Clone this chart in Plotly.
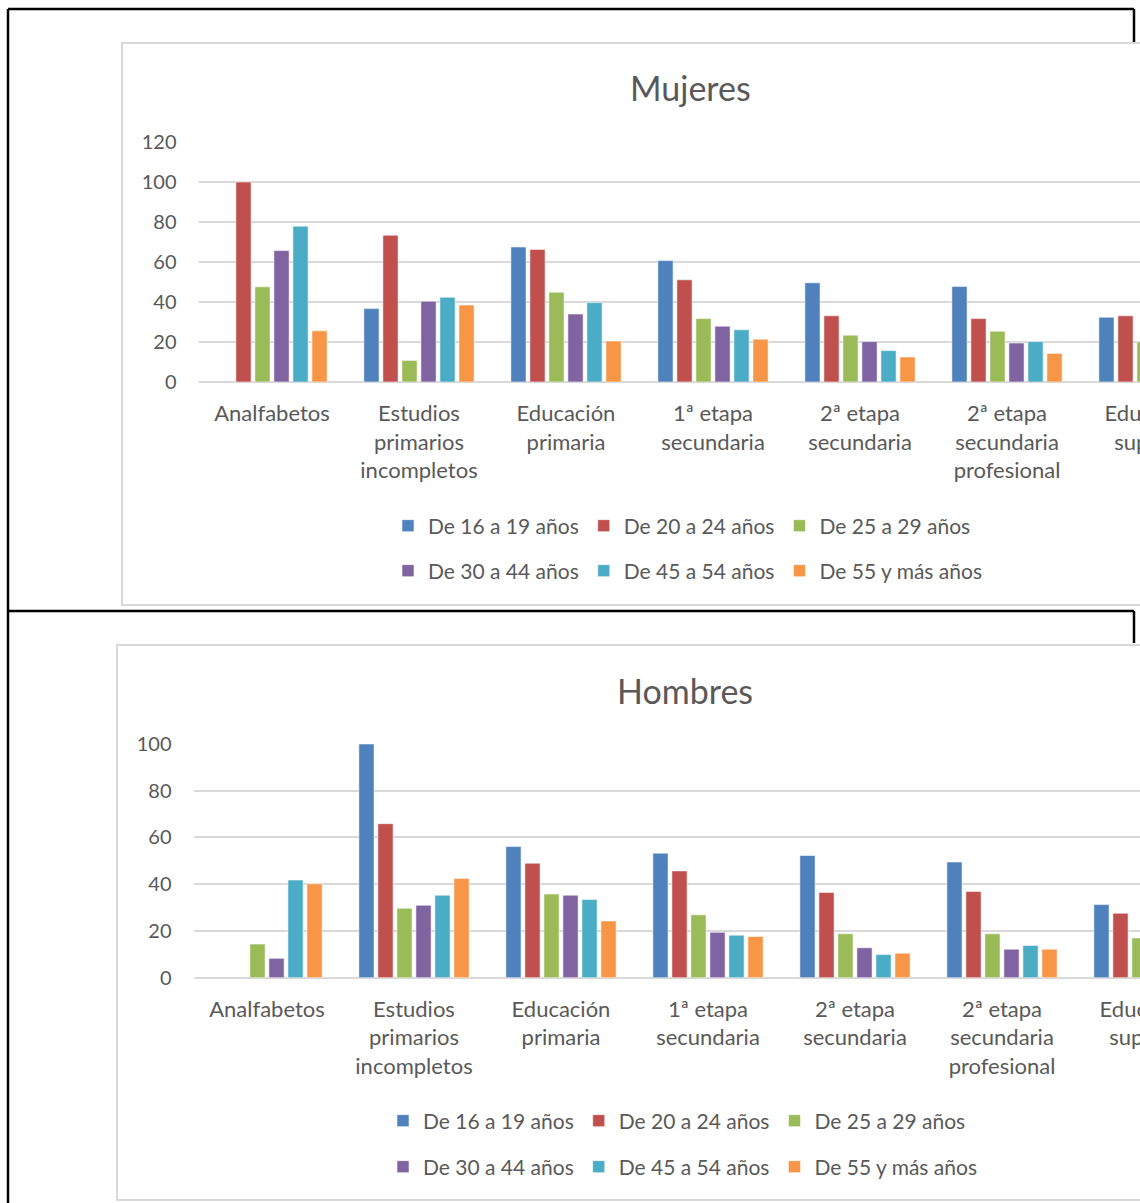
import plotly.graph_objects as go

# Niveles de estudios (eje de categorías)
categorias = [
    "Analfabetos",
    "Estudios primarios incompletos",
    "Educación primaria",
    "1ª etapa secundaria",
    "2ª etapa secundaria",
    "2ª etapa secundaria profesional",
    "Educación superior",
]
etiquetas = [
    "Analfabetos",
    "Estudios<br>primarios<br>incompletos",
    "Educación<br>primaria",
    "1ª etapa<br>secundaria",
    "2ª etapa<br>secundaria",
    "2ª etapa<br>secundaria<br>profesional",
    "Educación<br>superior",
]

grupos_edad = [
    "De 16 a 19 años",
    "De 20 a 24 años",
    "De 25 a 29 años",
    "De 30 a 44 años",
    "De 45 a 54 años",
    "De 55 y más años",
]

# Mujeres
m_16_19 = [None, 36.7, 67.5, 60.7, 49.6, 47.8, 32.4]
m_20_24 = [100, 73.4, 66.3, 51.1, 33.1, 31.7, 33.1]
m_25_29 = [47.6, 10.8, 44.9, 31.7, 23.4, 25.4, 20.0]
m_30_44 = [65.7, 40.4, 34.0, 27.9, 20.2, 19.5, None]
m_45_54 = [77.9, 42.4, 39.7, 26.1, 15.7, 20.2, None]
m_55_mas = [25.6, 38.5, 20.5, 21.4, 12.5, 14.3, None]

# Hombres
h_16_19 = [None, 100, 56.1, 53.3, 52.3, 49.5, 31.3]
h_20_24 = [None, 65.9, 49.0, 45.7, 36.5, 36.9, 27.6]
h_25_29 = [14.4, 29.7, 35.8, 26.9, 18.8, 18.8, 17.0]
h_30_44 = [8.3, 31.0, 35.3, 19.4, 12.8, 12.2, None]
h_45_54 = [41.8, 35.3, 33.5, 18.2, 9.9, 13.8, None]
h_55_mas = [40.2, 42.5, 24.3, 17.6, 10.5, 12.2, None]

mujeres = [m_16_19, m_20_24, m_25_29, m_30_44, m_45_54, m_55_mas]
hombres = [h_16_19, h_20_24, h_25_29, h_30_44, h_45_54, h_55_mas]

colores = ["#4F81BD", "#C0504D", "#9BBB59", "#8064A2", "#4BACC6", "#F79646"]

W, H = 1270, 1203
FONT = "Lato"
GRIS_TXT = "#595959"
GRIS_LIN = "#d9d9d9"


def fx(p):
    return p / W


def fy(p):
    return 1 - p / H


fig = go.Figure()

for i, (nombre, serie) in enumerate(zip(grupos_edad, mujeres)):
    fig.add_trace(go.Bar(
        x=categorias, y=serie, name=nombre,
        marker=dict(color=colores[i], line=dict(color="rgba(255,255,255,0.55)", width=1)),
        xaxis="x", yaxis="y",
        legend="legend" if i < 3 else "legend2",
    ))

for i, (nombre, serie) in enumerate(zip(grupos_edad, hombres)):
    fig.add_trace(go.Bar(
        x=categorias, y=serie, name=nombre,
        marker=dict(color=colores[i], line=dict(color="rgba(255,255,255,0.55)", width=1)),
        xaxis="x2", yaxis="y2",
        legend="legend3" if i < 3 else "legend4",
    ))

xcomun = dict(
    type="category", categoryorder="array", categoryarray=categorias,
    tickmode="array", tickvals=categorias, ticktext=etiquetas,
    range=[-0.5, 6.5], showgrid=False, zeroline=False, showline=False,
    ticks="", ticklabelstandoff=16, automargin=False,
    tickfont=dict(family=FONT, size=22, color=GRIS_TXT),
    fixedrange=True,
)
ycomun = dict(
    dtick=20, showgrid=True, gridcolor=GRIS_LIN, gridwidth=2,
    zeroline=True, zerolinecolor=GRIS_LIN, zerolinewidth=2,
    showline=False, ticks="", ticklabelstandoff=21, automargin=False,
    tickfont=dict(family=FONT, size=20, color=GRIS_TXT),
    fixedrange=True,
)

fig.update_layout(
    width=W, height=H,
    margin=dict(l=0, r=0, t=0, b=0, autoexpand=False),
    paper_bgcolor="white", plot_bgcolor="white",
    barmode="group", bargap=0.224, bargroupgap=0.2,
    font=dict(family=FONT, color=GRIS_TXT),
    xaxis=dict(xcomun, domain=[fx(198.5), fx(1227.5)], anchor="y"),
    yaxis=dict(ycomun, domain=[fy(382), fy(142)], range=[0, 120], anchor="x"),
    xaxis2=dict(xcomun, domain=[fx(193.5), fx(1222.5)], anchor="y2"),
    yaxis2=dict(ycomun, domain=[fy(977.7), fy(744)], range=[0, 100], anchor="x2"),
)

# Leyendas: dos filas de tres entradas por gráfico
def leyenda(x_px, y_px):
    return dict(
        orientation="h", x=fx(x_px), xanchor="left", y=fy(y_px), yanchor="middle",
        font=dict(family=FONT, size=21, color=GRIS_TXT),
        bgcolor="rgba(0,0,0,0)", borderwidth=0, valign="middle",
    )

fig.update_layout(
    legend=leyenda(388, 526),
    legend2=leyenda(388, 571),
    legend3=leyenda(383, 1121),
    legend4=leyenda(383, 1167),
)

# Títulos de cada gráfico
for texto, xc, yc in [("Mujeres", 690, 88), ("Hombres", 685, 690)]:
    fig.add_annotation(
        text=texto, x=fx(xc), y=fy(yc), xref="paper", yref="paper",
        xanchor="center", yanchor="middle", showarrow=False,
        font=dict(family=FONT, size=34, color=GRIS_TXT),
    )

# Marcos de los gráficos
for x0, y0, x1, y1 in [(122, 43, 1258, 605), (117, 645, 1253, 1200)]:
    fig.add_shape(
        type="rect", xref="paper", yref="paper",
        x0=fx(x0), x1=fx(x1), y0=fy(y1), y1=fy(y0),
        line=dict(color=GRIS_LIN, width=2), fillcolor="rgba(0,0,0,0)", layer="below",
    )

# Bordes de celda de la hoja
for x0, y0, x1, y1 in [
    (8, 9, 1134, 9), (1134, 9, 1134, 42), (8, 9, 8, 1210),
    (8, 611, 1134, 611), (1134, 611, 1134, 643),
]:
    fig.add_shape(
        type="line", xref="paper", yref="paper",
        x0=fx(x0), x1=fx(x1), y0=fy(y0), y1=fy(y1),
        line=dict(color="black", width=2.5),
    )

fig.write_html(
    "out.html",
    config={"displayModeBar": False},
    post_script="document.body.style.margin='0';document.body.style.overflow='hidden';",
)
